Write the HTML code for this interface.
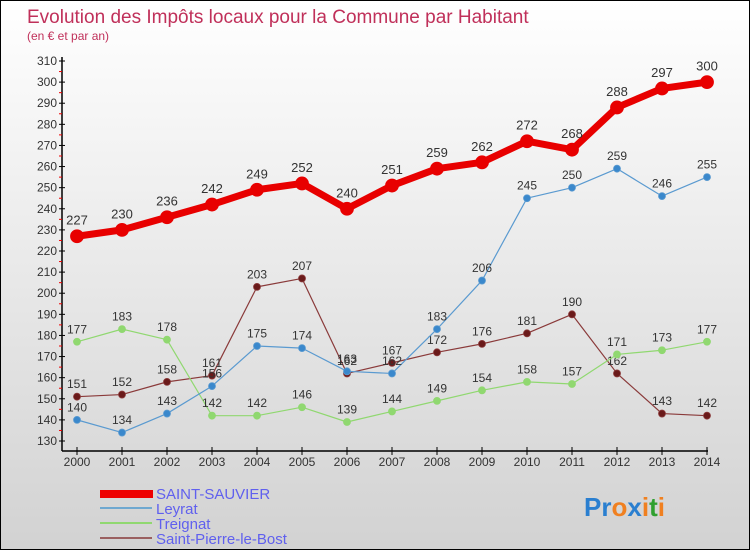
<!DOCTYPE html>
<html><head><meta charset="utf-8"><style>
body{margin:0}
#c{width:748px;height:548px;border:1px solid #000;background:linear-gradient(#ffffff,#d2d2d2);position:relative;overflow:hidden;font-family:"Liberation Sans",sans-serif}
</style></head><body>
<div id="c">
<svg id="s" width="748" height="548" style="position:absolute;left:0;top:0">
<text x="26" y="22" font-size="19" fill="#c0305a">Evolution des Impôts locaux pour la Commune par Habitant</text>
<text x="26" y="39" font-size="12" fill="#c0305a">(en € et par an)</text>
<g id="axes"></g><g id="series"></g>
<g>
<rect x="99" y="489" width="53" height="8" fill="#e00"/>
<text x="155" y="498" font-size="15" fill="#6060ee">SAINT-SAUVIER</text>
<line x1="99" y1="507" x2="151" y2="507" stroke="#6fa8d0" stroke-width="2"/>
<text x="155" y="513" font-size="15" fill="#6060ee">Leyrat</text>
<line x1="99" y1="522" x2="151" y2="522" stroke="#90d870" stroke-width="2"/>
<text x="155" y="528" font-size="15" fill="#6060ee">Treignat</text>
<line x1="99" y1="537" x2="151" y2="537" stroke="#9a6060" stroke-width="2"/>
<text x="155" y="543" font-size="15" fill="#6060ee">Saint-Pierre-le-Bost</text>
</g>
<text x="583" y="515" font-size="26" font-weight="bold"><tspan fill="#2a7fd0">Pr</tspan><tspan fill="#f08020">o</tspan><tspan fill="#2a7fd0">x</tspan><tspan fill="#f08020">i</tspan><tspan fill="#30a030">t</tspan><tspan fill="#f08020">i</tspan></text>
</svg></div>
<script>
const years=[2000,2001,2002,2003,2004,2005,2006,2007,2008,2009,2010,2011,2012,2013,2014];
const saintSauvier=[227,230,236,242,249,252,240,251,259,262,272,268,288,297,300];
const leyrat=[140,134,143,156,175,174,163,162,183,206,245,250,259,246,255];
const treignat=[177,183,178,142,142,146,139,144,149,154,158,157,171,173,177];
const saintPierre=[151,152,158,161,203,207,162,167,172,176,181,190,162,143,142];
const yTicks=[130,140,150,160,170,180,190,200,210,220,230,240,250,260,270,280,290,300,310];
const NS='http://www.w3.org/2000/svg';
const X=i=>76+i*45, Y=v=>440-(v-130)*380/180;
function mk(t,a,p){const e=document.createElementNS(NS,t);for(const k in a)e.setAttribute(k,a[k]);p.appendChild(e);return e;}
const ax=document.getElementById('axes'), sg=document.getElementById('series');
let l=mk('line',{x1:61,y1:56,x2:61,y2:450,stroke:'#000','stroke-width':1.5},ax);


l=mk('line',{x1:61,y1:450,x2:707,y2:450,stroke:'#000','stroke-width':1.5},ax);


yTicks.forEach(v=>{mk('line',{x1:58,y1:Y(v),x2:64,y2:Y(v),stroke:'#000'},ax);
 if(v<310)mk('line',{x1:58,y1:Y(v+5),x2:61,y2:Y(v+5),stroke:'#e00'},ax);
 const t=mk('text',{x:56,y:Y(v)+4,'text-anchor':'end','font-size':12,fill:'#333'},ax);t.textContent=v;
 
 });
years.forEach((y,i)=>{mk('line',{x1:X(i),y1:446,x2:X(i),y2:454,stroke:'#000'},ax);
 const t=mk('text',{x:X(i),y:465,'text-anchor':'middle','font-size':12,fill:'#333'},ax);t.textContent=y;
 
 });
function draw(vals,color,dot,w,r,name,fs){
 const g=mk('g',{},sg);
 
 
 mk('polyline',{points:vals.map((v,i)=>X(i)+','+Y(v)).join(' '),fill:'none',stroke:color,'stroke-width':w,'stroke-linejoin':'round'},g);
 vals.forEach((v,i)=>{const c=mk('circle',{cx:X(i),cy:Y(v),r:r,fill:dot,stroke:color,'stroke-width':0.8},g);
  
  
  const t=mk('text',{x:X(i),y:Y(v)-r-5,'text-anchor':'middle','font-size':fs,fill:'#333'},g);t.textContent=v;
  
  });
}
draw(saintPierre,'#8a3a3a','#6a1a1a',1.2,3.5,'saint-pierre-le-bost',12);
draw(treignat,'#90d870','#90d870',1.2,3.5,'treignat',12);
draw(leyrat,'#5a9ad0','#3a88cc',1.2,3.5,'leyrat',12);
draw(saintSauvier,'#e80000','#e80000',7,6.5,'saint-sauvier',13);
</script>
</body></html>
